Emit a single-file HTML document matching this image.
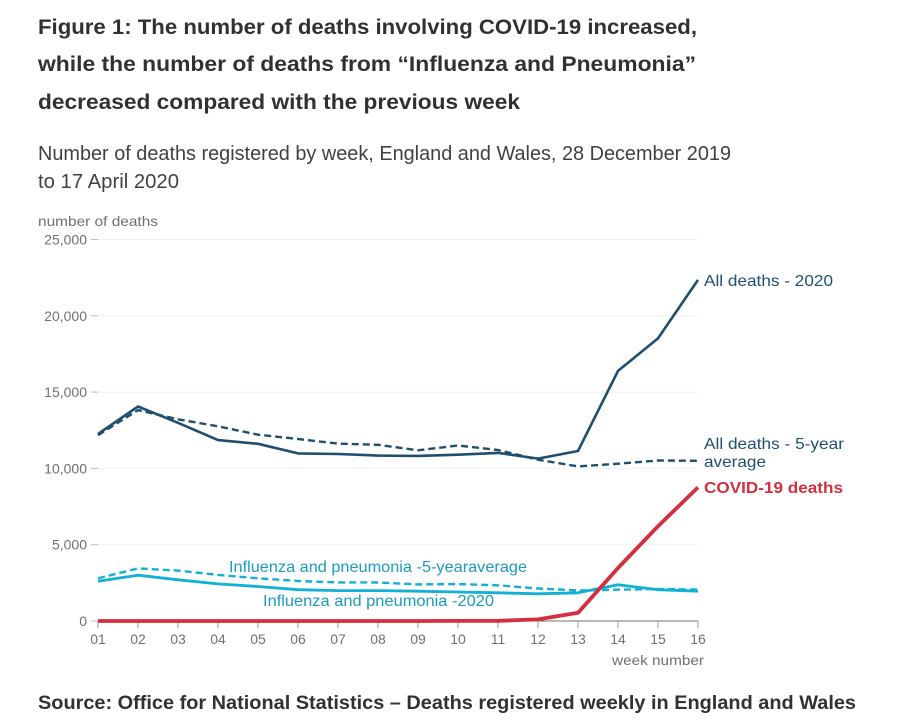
<!DOCTYPE html>
<html lang="en">
<head>
<meta charset="utf-8">
<title>Figure 1: Deaths registered by week</title>
<style>
  html, body { margin: 0; padding: 0; background: #fff; }
  svg { display: block; font-family: "Liberation Sans", sans-serif; }
  .title { font-size: 21.5px; font-weight: bold; fill: #323132; }
  .subtitle { font-size: 20px; fill: #414042; }
  .axis-text { font-size: 14px; fill: #707071; }
  .label { font-size: 16px; }
</style>
</head>
<body>
<svg id="chart" xmlns="http://www.w3.org/2000/svg" width="923" height="722" viewBox="0 0 923 722">
  <rect width="923" height="722" fill="#fff"/>
  <text class="title" x="38" y="34" textLength="659" lengthAdjust="spacingAndGlyphs">Figure 1: The number of deaths involving COVID-19 increased,</text>
  <text class="title" x="38" y="71" textLength="658" lengthAdjust="spacingAndGlyphs">while the number of deaths from “Influenza and Pneumonia”</text>
  <text class="title" x="38" y="109" textLength="482" lengthAdjust="spacingAndGlyphs">decreased compared with the previous week</text>
  <text class="subtitle" x="38" y="160" textLength="693" lengthAdjust="spacingAndGlyphs">Number of deaths registered by week, England and Wales, 28 December 2019</text>
  <text class="subtitle" x="38" y="188" textLength="141" lengthAdjust="spacingAndGlyphs">to 17 April 2020</text>
  <text class="axis-text" x="38" y="226" textLength="120" lengthAdjust="spacingAndGlyphs">number of deaths</text>
  <text class="axis-text" x="612" y="665" textLength="92" lengthAdjust="spacingAndGlyphs">week number</text>
  <g id="grid"></g>
  <g id="x-axis"></g>
  <g id="series"></g>
  <text class="label" x="704" y="286" fill="#1f4e6e" textLength="129" lengthAdjust="spacingAndGlyphs">All deaths - 2020</text>
  <text class="label" x="704" y="449" fill="#1f4e6e" textLength="140" lengthAdjust="spacingAndGlyphs">All deaths - 5-year</text>
  <text class="label" x="704" y="467" fill="#1f4e6e" textLength="62" lengthAdjust="spacingAndGlyphs">average</text>
  <text class="label" x="704" y="493" fill="#d32f3f" font-weight="bold" textLength="139" lengthAdjust="spacingAndGlyphs">COVID-19 deaths</text>
  <text class="label" x="229" y="572" fill="#1b9cc0" textLength="298" lengthAdjust="spacingAndGlyphs">Influenza and pneumonia -5-yearaverage</text>
  <text class="label" x="263" y="606" fill="#1b9cc0" textLength="231" lengthAdjust="spacingAndGlyphs">Influenza and pneumonia -2020</text>
  <text x="38" y="709" font-size="19.5" font-weight="bold" fill="#323132" textLength="818" lengthAdjust="spacingAndGlyphs">Source: Office for National Statistics – Deaths registered weekly in England and Wales</text>
</svg>
<script>
const weeks = ['01','02','03','04','05','06','07','08','09','10','11','12','13','14','15','16'];
const yTicks = [0, 5000, 10000, 15000, 20000, 25000];
const yTickLabels = ['0', '5,000', '10,000', '15,000', '20,000', '25,000'];
const allDeaths2020 = [12254,14058,12990,11856,11612,10986,10944,10841,10816,10895,11019,10645,11141,16387,18516,22351];
const allDeathsAverage = [12175,13822,13216,12760,12206,11925,11627,11548,11183,11498,11205,10573,10130,10305,10520,10497];
const covidDeaths = [0,0,0,0,0,0,0,0,0,5,10,103,539,3475,6213,8758];
const influenza2020 = [2600,3000,2700,2430,2260,2050,1990,1990,1950,1900,1850,1780,1850,2370,2050,1950];
const influenzaAverage = [2800,3450,3300,3020,2800,2620,2530,2520,2400,2420,2340,2130,2000,2050,2100,2060];

const SVGNS = 'http://www.w3.org/2000/svg';
const plot = { left: 98, right: 698, top: 239.5, bottom: 621, max: 25000 };
function xScale(i) { return plot.left + i * (plot.right - plot.left) / (weeks.length - 1); }
function yScale(v) { return plot.bottom - (v / plot.max) * (plot.bottom - plot.top); }

const gridGroup = document.getElementById('grid');
const xGroup = document.getElementById('x-axis');
const seriesGroup = document.getElementById('series');

yTicks.forEach(function (v, i) {
  const y = yScale(v);
  if (v !== 0) {
    const grid = document.createElementNS(SVGNS, 'line');
    
    
    grid.setAttribute('x1', plot.left);
    grid.setAttribute('x2', plot.right);
    grid.setAttribute('y1', y);
    grid.setAttribute('y2', y);
    grid.setAttribute('stroke', '#f0f0f0');
    grid.setAttribute('stroke-width', '1');
    gridGroup.appendChild(grid);
  }
  const tick = document.createElementNS(SVGNS, 'line');
  
  
  tick.setAttribute('x1', plot.left - 7);
  tick.setAttribute('x2', plot.left);
  tick.setAttribute('y1', y);
  tick.setAttribute('y2', y);
  tick.setAttribute('stroke', '#bcbcbc');
  tick.setAttribute('stroke-width', '1');
  gridGroup.appendChild(tick);
  const label = document.createElementNS(SVGNS, 'text');
  
  
  label.setAttribute('class', 'axis-text');
  label.setAttribute('x', plot.left - 11);
  label.setAttribute('y', y + 5);
  label.setAttribute('text-anchor', 'end');
  label.textContent = yTickLabels[i];
  gridGroup.appendChild(label);
});

const baseline = document.createElementNS(SVGNS, 'line');


baseline.setAttribute('x1', plot.left);
baseline.setAttribute('x2', plot.right);
baseline.setAttribute('y1', plot.bottom);
baseline.setAttribute('y2', plot.bottom);
baseline.setAttribute('stroke', '#707071');
baseline.setAttribute('stroke-width', '1');
xGroup.appendChild(baseline);

weeks.forEach(function (w, i) {
  const x = xScale(i);
  const tick = document.createElementNS(SVGNS, 'line');
  
  
  tick.setAttribute('x1', x);
  tick.setAttribute('x2', x);
  tick.setAttribute('y1', plot.bottom);
  tick.setAttribute('y2', plot.bottom + 7);
  tick.setAttribute('stroke', '#9a9a9a');
  tick.setAttribute('stroke-width', '1');
  xGroup.appendChild(tick);
  const label = document.createElementNS(SVGNS, 'text');
  
  
  label.setAttribute('class', 'axis-text');
  label.setAttribute('x', x);
  label.setAttribute('y', plot.bottom + 23);
  label.setAttribute('text-anchor', 'middle');
  label.textContent = w;
  xGroup.appendChild(label);
});

function drawLine(values, name, color, width, dash) {
  const path = document.createElementNS(SVGNS, 'path');
  const d = values.map(function (v, i) {
    return (i ? 'L' : 'M') + xScale(i).toFixed(1) + ' ' + yScale(v).toFixed(1);
  }).join(' ');
  path.setAttribute('d', d);
  path.setAttribute('fill', 'none');
  path.setAttribute('stroke', color);
  path.setAttribute('stroke-width', width);
  path.setAttribute('stroke-linejoin', 'round');
  if (dash) path.setAttribute('stroke-dasharray', dash);
  
  
  seriesGroup.appendChild(path);
}

drawLine(influenzaAverage, 'line-influenza-average', '#12afd6', 2.4, '7 4');
drawLine(influenza2020, 'line-influenza-2020', '#12afd6', 2.8);
drawLine(allDeathsAverage, 'line-all-deaths-average', '#1f4e6e', 2.4, '7 4');
drawLine(allDeaths2020, 'line-all-deaths-2020', '#1f4e6e', 2.6);
drawLine(covidDeaths, 'line-covid-deaths', '#d32f3f', 3.8);
</script>
</body>
</html>
